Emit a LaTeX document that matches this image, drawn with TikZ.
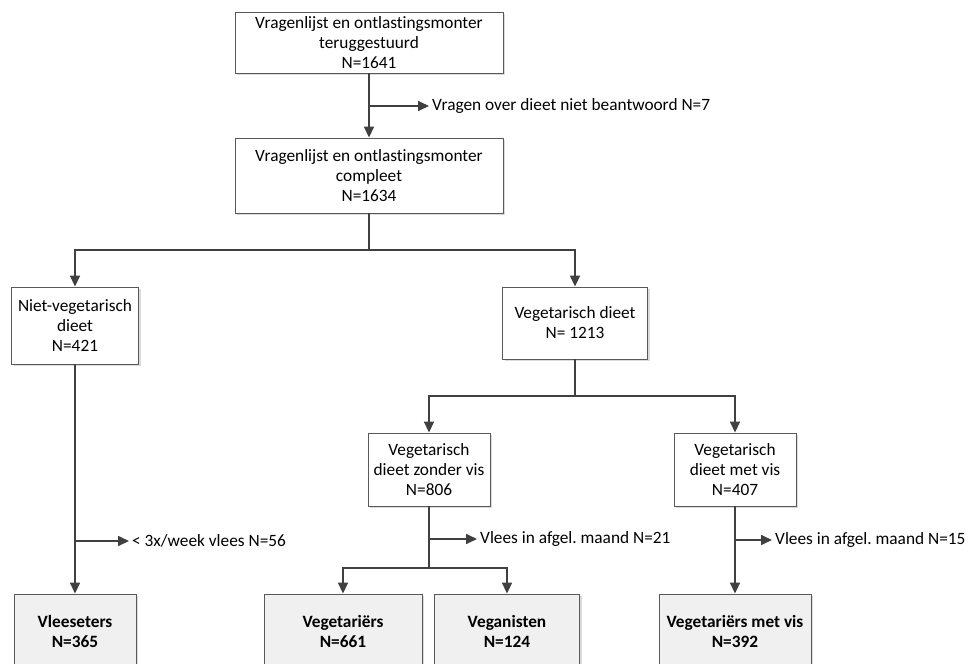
\documentclass[tikz,border=0pt]{standalone}
\usepackage{fontspec}
\setmainfont{Carlito}[Ligatures={NoCommon}]
\usetikzlibrary{arrows.meta,positioning,calc,shadows}
\frenchspacing

\tikzset{
  box/.style={draw=black!65, fill=white, line width=0.9pt, align=center, inner sep=0pt,
    drop shadow={shadow xshift=2pt,shadow yshift=-2pt,fill=black!14,opacity=1}},
  endbox/.style={box, fill=black!6, font=\bfseries\fontsize{17.3}{20}\selectfont},
  link/.style={draw=black!75, line width=1.7pt},
  arr/.style={link, -{Triangle[length=11pt,width=10pt]}},
  sidenote/.style={anchor=west, inner sep=3pt}
}

\begin{document}
\begin{tikzpicture}[x=1pt,y=-1pt,font=\fontsize{17.3}{20}\selectfont]
  \useasboundingbox (0,0) rectangle (975,664);
  \node[box,minimum width=268pt,minimum height=61pt] (ret) at (369,42.5) {Vragenlijst en ontlastingsmonter\\teruggestuurd\\N=1641};
  \node[box,minimum width=268pt,minimum height=75pt] (comp) at (369,175.5) {Vragenlijst en ontlastingsmonter\\compleet\\N=1634};
  \node[box,minimum width=127pt,minimum height=77pt] (niet) at (75,325.5) {Niet-vegetarisch\\dieet\\N=421};
  \node[box,minimum width=145pt,minimum height=72pt] (veg) at (575,323) {Vegetarisch dieet\\N= 1213};
  \node[box,minimum width=122pt,minimum height=73pt] (zonder) at (429,469.5) {Vegetarisch\\dieet zonder vis\\N=806};
  \node[box,minimum width=122pt,minimum height=73pt] (metvis) at (735,469.5) {Vegetarisch\\dieet met vis\\N=407};
  \node[endbox,minimum width=122pt,minimum height=74pt] (vlees) at (75,631) {Vleeseters\\N=365};
  \node[endbox,minimum width=158pt,minimum height=74pt] (vegetariers) at (343,631) {Vegetariërs\\N=661};
  \node[endbox,minimum width=145pt,minimum height=74pt] (veganisten) at (507,631) {Veganisten\\N=124};
  \node[endbox,minimum width=152pt,minimum height=74pt] (vegvis) at (735,631) {Vegetariërs met vis\\N=392};

  \node[sidenote] (drop1) at (429,106) {Vragen over dieet niet beantwoord N=7};
  \node[sidenote] (drop2) at (129,541) {< 3x/week vlees N=56};
  \node[sidenote] (drop3) at (477,539) {Vlees in afgel. maand N=21};
  \node[sidenote] (drop4) at (772,540) {Vlees in afgel. maand N=15};

  \coordinate (split1) at (369,250);
  \coordinate (split2) at (575,396);
  \coordinate (split3) at (429,568);

  \draw[arr] (ret) -- (comp);
  \draw[arr] (ret.south |- drop1.west) -- (drop1.west);
  \draw[link] (comp) -- (split1);
  \draw[arr] (split1) -| (niet.north);
  \draw[arr] (split1) -| (veg.north);
  \draw[arr] (niet) -- (vlees);
  \draw[arr] (niet.south |- drop2.west) -- (drop2.west);
  \draw[link] (veg) -- (split2);
  \draw[arr] (split2) -| (zonder.north);
  \draw[arr] (split2) -| (metvis.north);
  \draw[link] (zonder) -- (split3);
  \draw[arr] (zonder.south |- drop3.west) -- (drop3.west);
  \draw[arr] (split3) -| (vegetariers.north);
  \draw[arr] (split3) -| (veganisten.north);
  \draw[arr] (metvis) -- (vegvis);
  \draw[arr] (metvis.south |- drop4.west) -- (drop4.west);
\end{tikzpicture}
\end{document}
